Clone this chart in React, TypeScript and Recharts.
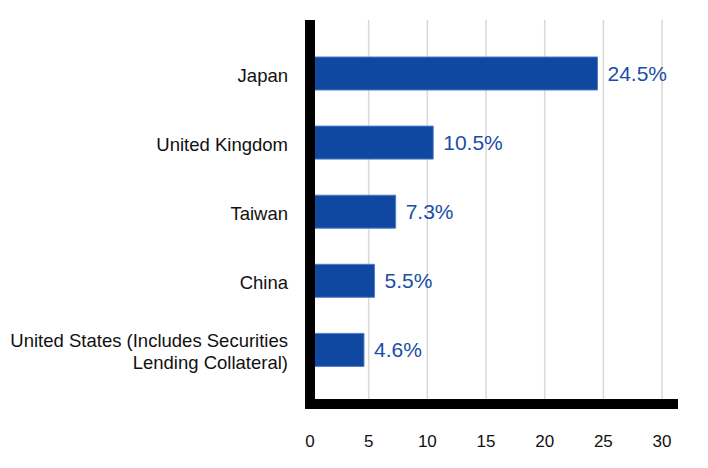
import { BarChart, Bar, XAxis, YAxis, CartesianGrid, LabelList } from 'recharts';

// country names, '\n' marks where the label wraps
const countries = [
  'Japan',
  'United Kingdom',
  'Taiwan',
  'China',
  'United States (Includes Securities\nLending Collateral)',
];
const weights = [24.5, 10.5, 7.3, 5.5, 4.6];
const xTicks = [0, 5, 10, 15, 20, 25, 30];
const X_MAX = 31.36;

const data = countries.map((name, i) => ({ name, value: weights[i] }));

const FONT = 'Arial, "Liberation Sans", sans-serif';
const BLUE = '#0f47a1';

function CountryTick(props: any) {
  const { x, y, payload } = props;
  const lines = String(payload.value).split('\n');
  const lineHeight = 22;
  const first = lines.length === 1 ? 8 : 8 - ((lines.length - 1) * lineHeight) / 2 + 0.5;
  return (
    <text x={x} y={y} textAnchor="end" fontSize={18.5} fontFamily={FONT} fill="#111">
      {lines.map((line, i) => (
        <tspan key={i} x={x} dy={i === 0 ? first : lineHeight}>
          {line}
        </tspan>
      ))}
    </text>
  );
}

// grid only at the tick values, not at the end of the domain
function gridX({ xAxis, offset }: any) {
  if (xAxis && typeof xAxis.scale === 'function') return xTicks.map((t) => xAxis.scale(t));
  return xTicks.map((t) => offset.left + (t / X_MAX) * offset.width);
}

export default function App() {
  return (
    <div style={{ width: 700, height: 460 }}>
      <BarChart
        width={700}
        height={460}
        data={data}
        layout="vertical"
        margin={{ top: 12, right: 30, bottom: 0, left: 0 }}
      >
        <CartesianGrid
          horizontal={false}
          stroke="#d9d9d9"
          strokeWidth={1.5}
          verticalCoordinatesGenerator={gridX}
        />
        <Bar
          dataKey="value"
          fill={BLUE}
          stroke="#4f7fc4"
          strokeWidth={1}
          barSize={33}
          isAnimationActive={false}
        >
          <LabelList
            dataKey="value"
            position="right"
            offset={10}
            formatter={(v: any) => `${v}%`}
            fill="#1a4ea6"
            fontSize={21}
            fontFamily={FONT}
          />
        </Bar>
        <XAxis
          type="number"
          domain={[0, X_MAX]}
          ticks={xTicks}
          height={64}
          tickLine={false}
          tickMargin={25}
          axisLine={{ stroke: '#000', strokeWidth: 10, strokeLinecap: 'square', strokeDasharray: '363 2000' }}
          tick={{ fill: '#111', fontSize: 17, fontFamily: FONT }}
        />
        <YAxis
          type="category"
          dataKey="name"
          width={302}
          padding={{ top: 19, bottom: 19.5 }}
          tickLine={false}
          tickMargin={16}
          axisLine={{ stroke: '#000', strokeWidth: 10 }}
          tick={(p: any) => <CountryTick {...p} />}
          interval={0}
        />
      </BarChart>
    </div>
  );
}
